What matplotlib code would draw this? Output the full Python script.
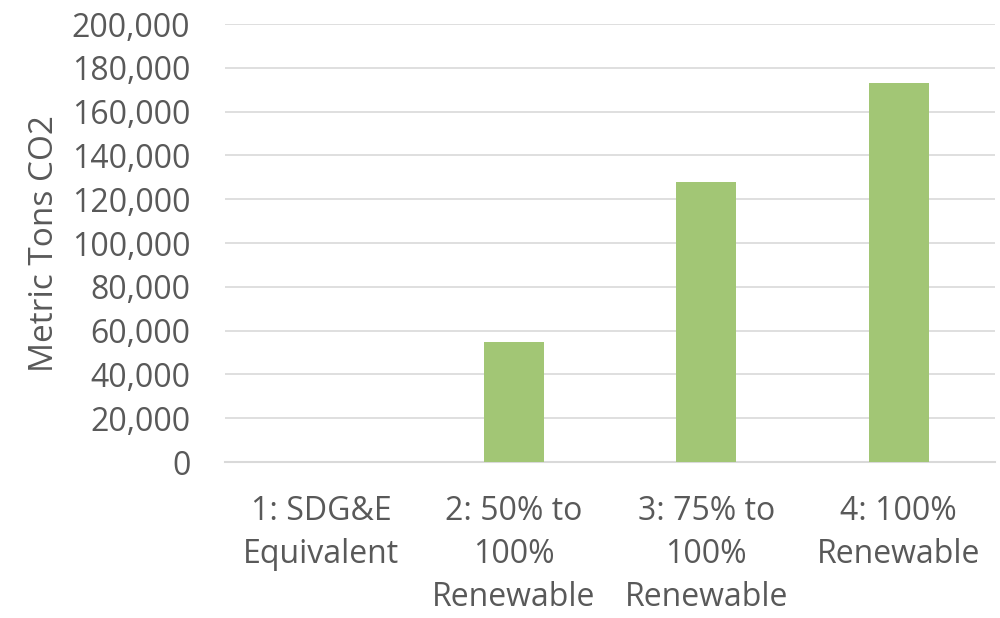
import matplotlib.pyplot as plt
from matplotlib.ticker import FuncFormatter

# scenario labels and emissions (metric tons CO2)
CATEGORIES = [
    "1: SDG&E\nEquivalent",
    "2: 50% to\n100%\nRenewable",
    "3: 75% to\n100%\nRenewable",
    "4: 100%\nRenewable",
]
VALUES = [0, 55000, 128000, 173000]

TEXT = "#595959"
plt.rcParams["font.family"] = ["Open Sans", "DejaVu Sans"]

fig = plt.figure(figsize=(10, 6.18), dpi=100)
ax = fig.add_axes([0.225, 0.2524, 0.77, 0.7087])

x = range(len(CATEGORIES))
ax.bar(x, VALUES, width=0.31, color="#A2C675", zorder=3)

ax.set_xlim(-0.5, len(CATEGORIES) - 0.5)
ax.set_ylim(0, 200000)
ax.set_yticks(range(0, 200001, 20000))
ax.yaxis.set_major_formatter(FuncFormatter(lambda v, p: f"{int(v):,}"))
ax.set_xticks(list(x))
ax.set_xticklabels(CATEGORIES, linespacing=1.4, fontsize=23)

ax.grid(axis="y", color="#D9D9D9", linewidth=1.2, zorder=0)
for s in ["top", "right", "left"]:
    ax.spines[s].set_visible(False)
ax.spines["bottom"].set_color("#D9D9D9")
ax.spines["bottom"].set_linewidth(1.5)

ax.tick_params(axis="both", length=0, labelsize=23, colors=TEXT)
ax.tick_params(axis="x", pad=24)
ax.tick_params(axis="y", pad=25)
ax.set_ylabel("Metric Tons CO2", fontsize=24, color=TEXT, labelpad=8)

plt.savefig("out.png", dpi=100)
plt.close()
